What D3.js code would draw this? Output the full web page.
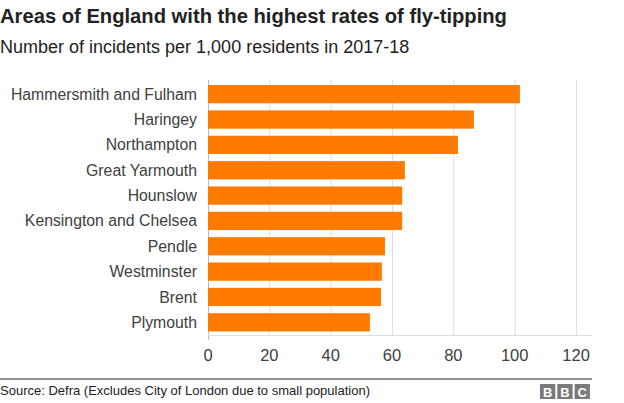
<!DOCTYPE html>
<html><head><meta charset="utf-8">
<script src="https://cdn.jsdelivr.net/npm/d3@7"></script>
<style>body{margin:0;background:#fff;} svg{display:block;font-family:"Liberation Sans",Arial,Helvetica,sans-serif;}</style>
</head><body>
<script>
const categories = ["Hammersmith and Fulham","Haringey","Northampton","Great Yarmouth","Hounslow","Kensington and Chelsea","Pendle","Westminster","Brent","Plymouth"];
const values = [101.7, 86.7, 81.5, 64.2, 63.3, 63.3, 57.7, 56.7, 56.4, 52.8];
const ticks = [0,20,40,60,80,100,120];
const title = "Areas of England with the highest rates of fly-tipping";
const subtitle = "Number of incidents per 1,000 residents in 2017-18";
const source = "Source: Defra (Excludes City of London due to small population)";

const W=624,H=403;
const svg=d3.select("body").append("svg").attr("width",W).attr("height",H);
const x=d3.scaleLinear().domain([0,125.2]).range([208,592]);
const y=d3.scaleBand().domain(categories).range([81.5,335]).paddingInner(0.28).paddingOuter(0.14);

svg.append("text").attr("x",0).attr("y",23).attr("font-size",20.2).attr("font-weight","bold").attr("fill","#222").text(title);
svg.append("text").attr("x",0).attr("y",52.5).attr("font-size",18).attr("fill","#222").text(subtitle);

// gridlines
svg.append("g").selectAll("line").data(ticks).join("line")
  .attr("x1",d=>x(d)+0.5).attr("x2",d=>x(d)+0.5).attr("y1",80).attr("y2",d=>d===0?340:335)
  .attr("stroke",d=>d===0?"#bbb":"#dddddd").attr("stroke-width",1);
// axis line
svg.append("line").attr("x1",208).attr("x2",592).attr("y1",335.5).attr("y2",335.5).attr("stroke","#dddddd");

svg.append("g").selectAll("rect").data(values).join("rect")
  .attr("x",x(0)).attr("y",(d,i)=>y(categories[i])).attr("width",d=>x(d)-x(0)).attr("height",y.bandwidth())
  .attr("fill","#ff7b00");

svg.append("g").selectAll("text").data(categories).join("text")
  .attr("x",197).attr("y",d=>y(d)+y.bandwidth()/2).attr("dy","0.35em").attr("text-anchor","end")
  .attr("font-size",15.8).attr("fill","#404040").text(d=>d);

svg.append("g").selectAll("text").data(ticks).join("text")
  .attr("x",d=>x(d)).attr("y",361).attr("text-anchor","middle").attr("font-size",16.5).attr("fill","#404040").text(d=>d);

svg.append("line").attr("x1",0).attr("x2",592).attr("y1",379).attr("y2",379).attr("stroke","#222").attr("stroke-width",1);
svg.append("text").attr("x",0).attr("y",395).attr("font-size",13).attr("fill","#222").text(source);

const bbc=svg.append("g");
["B","B","C"].forEach((c,i)=>{
  bbc.append("rect").attr("x",540+i*17.3).attr("y",384).attr("width",15.3).attr("height",15).attr("fill","#7a7a7a");
  bbc.append("text").attr("x",540+i*17.3+7.65).attr("y",396.5).attr("text-anchor","middle").attr("font-size",13).attr("font-weight","bold").attr("fill","#fff").text(c);
});
</script>
</body></html>
